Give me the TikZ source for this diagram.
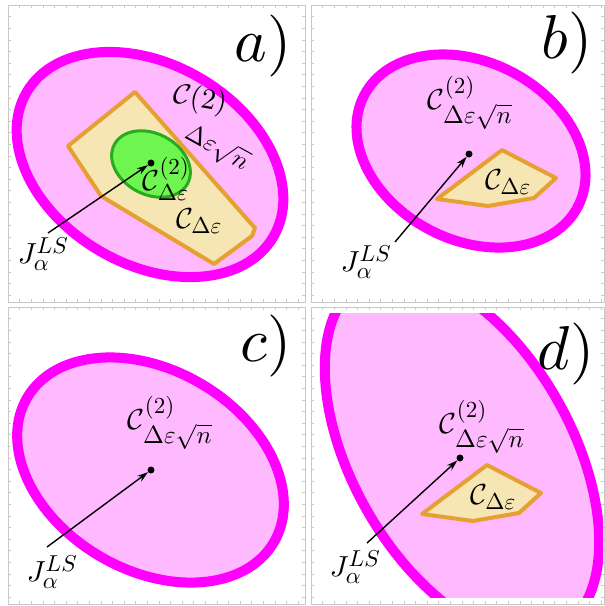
\documentclass[tikz,border=0pt]{standalone}
\usepackage{xcolor}
\usepackage{tikz}
\usetikzlibrary{arrows.meta}
\DeclareFontShape{OML}{cmm}{m}{it}{<->cmmi10}{}
\DeclareFontShape{OMS}{cmsy}{m}{n}{<->cmsy10}{}
\DeclareFontShape{OMX}{cmex}{m}{n}{<->cmex10}{}
\DeclareFontShape{OT1}{cmr}{m}{n}{<->cmr10}{}
\definecolor{rc}{HTML}{FF00FF}
\definecolor{rf}{HTML}{FFB9FF}
\definecolor{pf}{HTML}{F5E6B4}
\definecolor{pc}{HTML}{E6A032}
\definecolor{gf}{HTML}{6EF550}
\definecolor{gc}{HTML}{28AA1E}
\definecolor{fc}{HTML}{C8C8C8}
\DeclareMathSizes{29}{29}{23}{17}
\newcommand\wsub[1]{\mbox{\fontsize{25}{30}\selectfont$#1$}}

\begin{document}
\begin{tikzpicture}[x=1pt, y=-1pt,
    panel/.style={draw=fc, line width=0.8pt},
    tick/.style={draw=fc, line width=0.6pt},
    ring/.style={draw=rc, fill=rf, line width=10pt},
    poly/.style={draw=pc, fill=pf, line width=4pt, line join=round},
    core/.style={draw=gc, fill=gf, line width=3pt},
    dot/.style={circle, fill=black, inner sep=0pt, minimum size=7pt},
    lab/.style={font=\fontsize{29}{34}\selectfont, inner sep=0pt},
    tag/.style={font=\fontsize{62}{70}\selectfont, inner sep=0pt},
    ar/.style={-{Stealth[length=11pt, width=7pt]}, line width=1.4pt}
]
\useasboundingbox (0,0) rectangle (605,606);

\foreach \xa/\ya/\xb/\yb in {8/5/305/302, 311/5/604/302, 8/307/305/604, 311/307/604/604}{
  \draw[panel] (\xa,\ya) rectangle (\xb,\yb);
  \foreach \k in {1,...,25}
    \draw[tick] (\xa+\k*11.6,\ya) -- ++(0,3) (\xa+\k*11.6,\yb) -- ++(0,-3)
                (\xa,\ya+\k*11.6) -- ++(3,0) (\xb,\ya+\k*11.6) -- ++(-3,0);
}

% a)
\draw[ring, rotate around={-30.4:(150,164.5)}] (150,164.5) ellipse [x radius=143, y radius=100];
\draw[poly] (135,92) -- (255,228) -- (252,236) -- (214,264) -- (101,196) -- (68,146) -- cycle;
\draw[core, rotate around={-28:(151,164)}] (151,164) ellipse [x radius=41.5, y radius=30.5];
\node[dot] (da) at (151,163) {};
\node[lab] (c2a) at (166,179) {$\mathcal{C}^{(2)}_{\Delta\varepsilon}$};
\node[lab] (cea) at (199,221) {$\mathcal{C}_{\Delta\varepsilon}$};
\node[lab, rotate=-10] (cna) at (200,100) {$\mathcal{C}(2)$};
\node[lab, font=\fontsize{25}{30}\selectfont, rotate=-29] (sna) at (217,148) {$\Delta\varepsilon\sqrt{n}$};
\node[lab] (ja) at (43,254) {$J_\alpha^{LS}$};
\node[tag] (taga) at (263,46) {$a)$};
\coordinate (sa) at (48,233);
\draw[ar] (sa) -- (da);

% b)
\draw[ring, rotate around={-27.5:(471,151)}] (471,151) ellipse [x radius=120.5, y radius=89];
\draw[poly] (502,150) -- (556,178) -- (534,198) -- (488,206) -- (437,199) -- cycle;
\node[dot] (db) at (469,154) {};
\node[lab] (cnb) at (470,103) {$\mathcal{C}^{(2)}_{\wsub{\Delta\varepsilon\sqrt{n}}}$};
\node[lab] (ceb) at (508,182) {$\mathcal{C}_{\Delta\varepsilon}$};
\node[lab] (jb) at (366,262) {$J_\alpha^{LS}$};
\node[tag] (tagb) at (567,43) {$b)$};
\coordinate (sb) at (395,242);
\draw[ar] (sb) -- (db);

% c)
\draw[ring, rotate around={-30.4:(150.5,470)}] (150.5,470) ellipse [x radius=143, y radius=100];
\node[dot] (dc) at (151,470) {};
\node[lab] (cnc) at (170,423) {$\mathcal{C}^{(2)}_{\wsub{\Delta\varepsilon\sqrt{n}}}$};
\node[lab] (jc) at (52,572) {$J_\alpha^{LS}$};
\node[tag] (tagc) at (266,346) {$c)$};
\coordinate (sc) at (47,547);
\draw[ar] (sc) -- (dc);

% d)
\begin{scope}
  \clip (311,313) rectangle (603,597);
  \draw[ring, rotate around={-60.6:(462,455)}] (462,455) ellipse [x radius=200, y radius=110];
\end{scope}
\draw[poly] (487,465) -- (541,493) -- (519,513) -- (473,521) -- (422,514) -- cycle;
\node[dot] (dd) at (460,458) {};
\node[lab] (cnd) at (482,427) {$\mathcal{C}^{(2)}_{\wsub{\Delta\varepsilon\sqrt{n}}}$};
\node[lab] (ced) at (493,497) {$\mathcal{C}_{\Delta\varepsilon}$};
\node[lab] (jd) at (355,567) {$J_\alpha^{LS}$};
\node[tag] (tagd) at (566,354) {$d)$};
\coordinate (sd) at (367,543);
\draw[ar] (sd) -- (dd);
\end{tikzpicture}
\end{document}
